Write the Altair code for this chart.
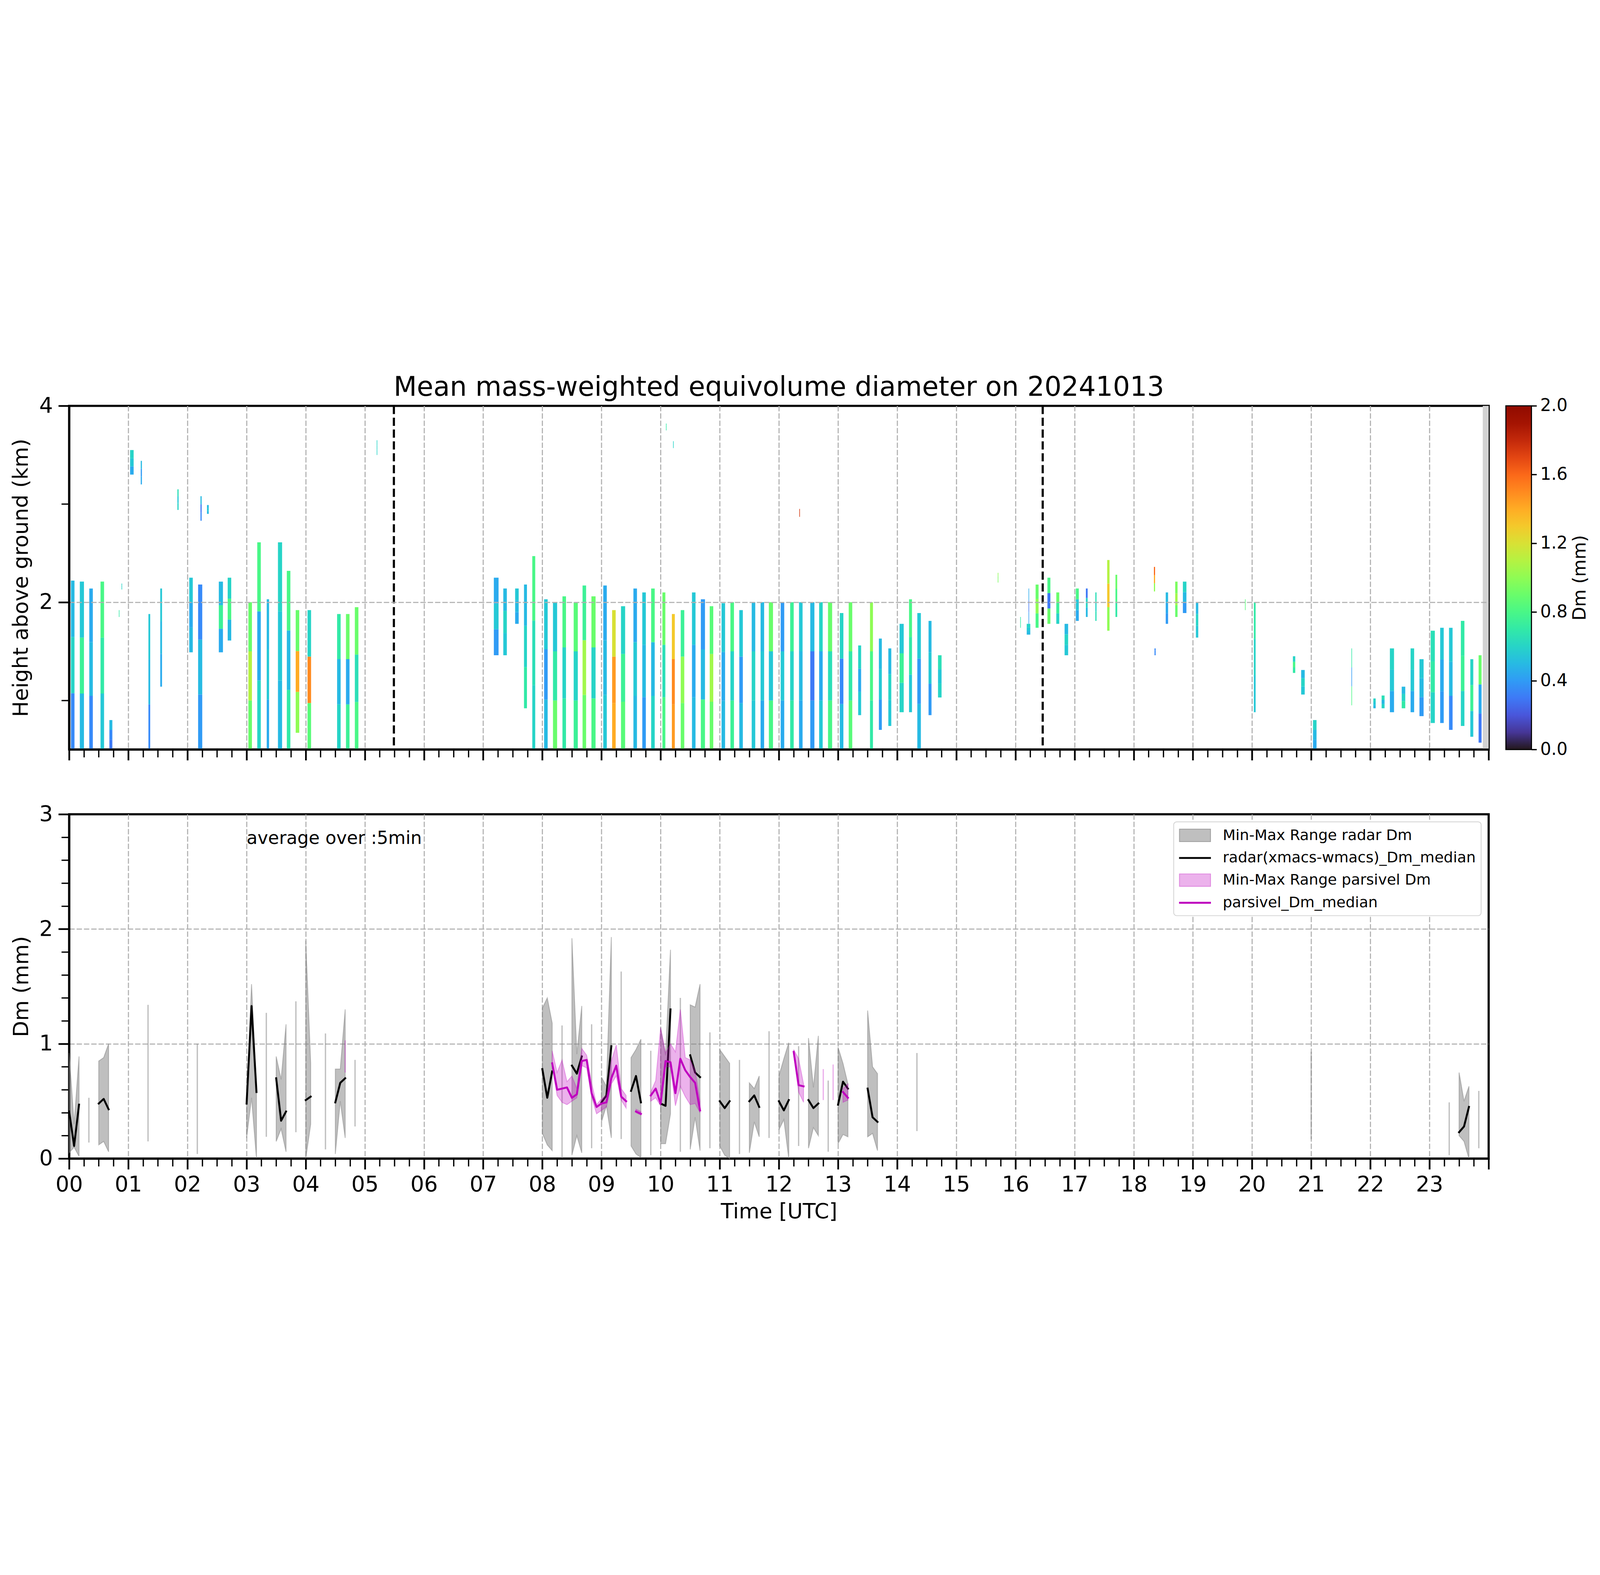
import pandas as pd
import altair as alt

alt.data_transformers.disable_max_rows()

FONT = "DejaVu Sans"
PLOT_W = 6598
TOP_H = 1597
BOT_H = 1600

# ---------------- top panel: radar Dm curtains ----------------
# start/end in hours UTC, bottom/top in km, Dm (mm) in lower/middle/upper third
curtain_start = [
    0.03, 0.18, 0.34, 0.53, 0.68, 0.84, 0.885, 1.03, 1.21, 1.34,
    1.54, 1.83, 2.03, 2.18, 2.22, 2.33, 2.53, 2.68, 3.03, 3.18,
    3.34, 3.53, 3.68, 3.83, 4.03, 4.53, 4.68, 4.83, 5.20, 7.18,
    7.34, 7.54, 7.69, 7.83, 8.03, 8.18, 8.34, 8.53, 8.68, 8.83,
    9.03, 9.18, 9.33, 9.54, 9.69, 9.84, 10.03, 10.09, 10.19, 10.21,
    10.34, 10.53, 10.68, 10.83, 11.03, 11.18, 11.33, 11.54, 11.69, 11.83,
    12.03, 12.19, 12.34, 12.345, 12.53, 12.68, 12.83, 13.03, 13.18, 13.34,
    13.54, 13.69, 13.85, 14.04, 14.20, 14.34, 14.53, 14.69, 15.70, 16.08,
    16.19, 16.22, 16.34, 16.54, 16.69, 16.83, 17.02, 17.19, 17.35, 17.55,
    17.69, 18.34, 18.35, 18.54, 18.70, 18.83, 19.05, 19.88, 20.03, 20.69,
    20.83, 21.03, 21.68, 22.05, 22.19, 22.33, 22.53, 22.68, 22.83, 23.02,
    23.18, 23.33, 23.53, 23.69, 23.83,
]
curtain_end = [
    0.09, 0.25, 0.40, 0.59, 0.73, 0.85, 0.895, 1.09, 1.23, 1.37,
    1.57, 1.85, 2.09, 2.25, 2.24, 2.36, 2.60, 2.74, 3.09, 3.24,
    3.38, 3.60, 3.74, 3.89, 4.09, 4.59, 4.74, 4.89, 5.21, 7.26,
    7.40, 7.60, 7.74, 7.88, 8.09, 8.25, 8.40, 8.60, 8.74, 8.90,
    9.09, 9.24, 9.40, 9.60, 9.75, 9.90, 10.08, 10.10, 10.24, 10.22,
    10.40, 10.59, 10.75, 10.89, 11.09, 11.24, 11.39, 11.60, 11.75, 11.90,
    12.09, 12.25, 12.40, 12.355, 12.60, 12.74, 12.90, 13.09, 13.24, 13.39,
    13.59, 13.74, 13.90, 14.11, 14.25, 14.40, 14.58, 14.75, 15.71, 16.09,
    16.25, 16.23, 16.39, 16.59, 16.74, 16.89, 17.07, 17.22, 17.37, 17.59,
    17.72, 18.36, 18.37, 18.58, 18.74, 18.89, 19.09, 19.89, 20.06, 20.73,
    20.89, 21.09, 21.69, 22.09, 22.24, 22.40, 22.59, 22.74, 22.90, 23.09,
    23.24, 23.39, 23.59, 23.74, 23.88,
]
curtain_bottom = [
    0.50, 0.50, 0.50, 0.50, 0.50, 1.85, 2.13, 3.30, 3.20, 0.50,
    1.14, 2.94, 1.49, 0.50, 2.83, 2.90, 1.49, 1.61, 0.50, 0.50,
    0.50, 0.50, 0.50, 0.67, 0.50, 0.50, 0.50, 0.50, 3.50, 1.46,
    1.46, 1.78, 0.92, 0.50, 0.50, 0.50, 0.50, 0.50, 0.50, 0.50,
    0.50, 0.50, 0.50, 0.50, 0.50, 0.50, 0.50, 3.75, 0.50, 3.57,
    0.50, 0.50, 0.50, 0.50, 0.50, 0.50, 0.50, 0.50, 0.50, 0.50,
    0.50, 0.50, 0.50, 2.87, 0.50, 0.50, 0.50, 0.50, 0.50, 0.85,
    0.50, 0.70, 0.74, 0.88, 0.88, 0.50, 0.85, 1.03, 2.20, 1.74,
    1.67, 1.78, 1.74, 1.78, 1.78, 1.46, 1.81, 1.85, 1.81, 1.71,
    1.85, 2.11, 1.46, 1.78, 1.85, 1.89, 1.64, 1.92, 0.88, 1.28,
    1.06, 0.50, 0.95, 0.92, 0.92, 0.88, 0.92, 0.88, 0.84, 0.77,
    0.77, 0.70, 0.74, 0.63, 0.57,
]
curtain_top = [
    2.22, 2.21, 2.14, 2.21, 0.80, 1.92, 2.19, 3.55, 3.44, 1.88,
    2.14, 3.15, 2.25, 2.18, 3.08, 2.99, 2.21, 2.25, 2.00, 2.61,
    2.03, 2.61, 2.32, 1.92, 1.92, 1.88, 1.88, 1.95, 3.65, 2.25,
    2.14, 2.14, 2.18, 2.47, 2.03, 2.00, 2.06, 2.00, 2.17, 2.06,
    2.17, 1.92, 1.96, 2.14, 2.10, 2.14, 2.10, 3.82, 1.88, 3.64,
    1.92, 2.10, 2.03, 1.96, 1.99, 2.00, 1.92, 2.00, 2.00, 2.00,
    2.00, 2.00, 2.00, 2.95, 2.00, 2.00, 2.00, 1.89, 2.00, 1.56,
    2.00, 1.63, 1.53, 1.78, 2.03, 1.89, 1.81, 1.46, 2.30, 1.85,
    1.78, 2.14, 2.18, 2.25, 2.10, 1.78, 2.14, 2.14, 2.10, 2.43,
    2.28, 2.36, 1.53, 2.10, 2.21, 2.21, 2.00, 2.03, 2.00, 1.45,
    1.31, 0.80, 1.53, 1.02, 1.05, 1.53, 1.14, 1.53, 1.42, 1.71,
    1.74, 1.74, 1.81, 1.42, 1.46,
]
curtain_dm_low = [
    0.35, 0.50, 0.35, 0.55, 0.30, 0.70, 0.60, 0.45, 0.45, 0.35,
    0.45, 0.60, 0.50, 0.40, 0.35, 0.50, 0.45, 0.50, 0.90, 0.60,
    0.45, 0.50, 0.70, 1.00, 0.85, 0.60, 0.75, 0.80, 0.60, 0.40,
    0.55, 0.45, 0.70, 0.60, 0.50, 0.90, 0.70, 0.75, 0.90, 0.80,
    0.55, 1.40, 0.85, 0.50, 0.40, 0.60, 0.80, 0.70, 1.45, 0.60,
    0.90, 0.50, 0.80, 0.90, 0.50, 0.75, 0.50, 0.55, 0.45, 0.80,
    0.45, 0.70, 0.45, 1.75, 0.40, 0.55, 0.80, 0.50, 0.85, 0.55,
    0.70, 0.40, 0.55, 0.60, 0.55, 0.50, 0.40, 0.60, 0.95, 0.70,
    0.50, 0.40, 0.80, 0.90, 0.60, 0.55, 0.45, 0.50, 0.65, 1.00,
    0.70, 1.00, 0.35, 0.40, 0.90, 0.40, 0.55, 0.85, 0.55, 0.70,
    0.55, 0.45, 0.80, 0.50, 0.60, 0.45, 0.70, 0.45, 0.40, 0.60,
    0.40, 0.35, 0.60, 0.55, 0.30,
]
curtain_dm_mid = [
    0.60, 0.75, 0.50, 0.70, 0.35, 0.70, 0.60, 0.55, 0.40, 0.50,
    0.50, 0.55, 0.45, 0.50, 0.30, 0.55, 0.75, 0.80, 1.10, 0.45,
    0.55, 0.55, 0.50, 1.40, 1.50, 0.50, 0.45, 0.65, 0.60, 0.55,
    0.60, 0.50, 0.60, 0.65, 0.40, 0.70, 0.60, 0.60, 1.05, 0.60,
    0.50, 1.45, 0.75, 0.55, 0.50, 0.50, 0.65, 0.70, 1.50, 0.60,
    1.00, 0.45, 0.50, 1.05, 0.45, 0.60, 0.40, 0.60, 0.55, 0.55,
    0.55, 0.60, 0.50, 1.75, 0.30, 0.45, 0.65, 0.35, 0.70, 0.45,
    0.80, 0.55, 0.60, 0.75, 0.70, 0.40, 0.55, 0.55, 0.95, 0.70,
    0.55, 0.30, 1.00, 0.30, 0.75, 0.60, 0.55, 0.60, 0.60, 1.30,
    0.80, 1.40, 0.35, 0.45, 1.05, 0.50, 0.60, 0.85, 0.60, 0.80,
    0.60, 0.50, 0.40, 0.55, 0.50, 0.55, 0.60, 0.55, 0.50, 0.70,
    0.45, 0.50, 0.75, 0.75, 0.45,
]
curtain_dm_high = [
    0.50, 0.55, 0.45, 0.80, 0.50, 0.70, 0.60, 0.60, 0.50, 0.55,
    0.55, 0.65, 0.55, 0.35, 0.50, 0.50, 0.50, 0.60, 0.90, 0.80,
    0.50, 0.60, 0.80, 0.90, 0.60, 0.70, 0.90, 0.90, 0.60, 0.45,
    0.50, 0.55, 0.50, 0.80, 0.55, 0.55, 0.80, 0.85, 0.75, 0.90,
    0.45, 1.20, 0.60, 0.45, 0.55, 0.80, 0.90, 0.70, 1.30, 0.60,
    0.75, 0.55, 0.40, 0.85, 0.55, 0.80, 0.55, 0.50, 0.50, 0.90,
    0.40, 0.75, 0.55, 1.75, 0.50, 0.60, 0.90, 0.60, 0.90, 0.60,
    1.00, 0.50, 0.50, 0.55, 0.80, 0.55, 0.50, 0.65, 1.00, 0.70,
    0.60, 0.45, 0.90, 0.80, 0.90, 0.50, 0.80, 0.30, 0.65, 1.10,
    0.90, 1.60, 0.35, 0.50, 0.95, 0.60, 0.50, 0.85, 0.70, 0.60,
    0.50, 0.60, 0.70, 0.60, 0.65, 0.60, 0.50, 0.60, 0.55, 0.65,
    0.55, 0.55, 0.70, 0.60, 0.90,
]

# marker lines and the no-data band at the end of the day
marker_hours = [5.49, 16.46]
nodata_start = [23.90]
nodata_end = [24.0]
nodata_bottom = [0.5]
nodata_top = [4.0]

# ---------------- bottom panel: 5-min statistics ----------------
radar_minute = [
    0, 5, 10, 20, 30, 35, 40, 80, 130, 180, 185, 190, 200, 210, 215, 220, 230, 240, 245, 260, 270, 275, 280, 290,
    480, 485, 490, 500, 510, 515, 520, 530, 540, 545, 550, 560, 570, 575, 580, 590, 600, 605, 610, 620, 630, 635, 640, 650,
    660, 665, 670, 680, 690, 695, 700, 710, 720, 725, 730, 740, 750, 755, 760, 770, 780, 785, 790, 810, 815, 820, 860,
    1260, 1400, 1410, 1415, 1420, 1430,
]
radar_lo = [
    0.05, 0.10, 0.02, 0.14, 0.12, 0.15, 0.06, 0.15, 0.04, 0.18, 0.53, 0.00, 0.19, 0.15, 0.26, 0.06, 0.23, 0.00, 0.30, 0.08, 0.04, 0.50, 0.18, 0.28,
    0.22, 0.12, 0.07, 0.00, 0.03, 0.20, 0.05, 0.09, 0.32, 0.46, 0.18, 0.17, 0.11, 0.04, 0.01, 0.03, 0.13, 0.13, 0.39, 0.06, 0.08, 0.36, 0.07, 0.09,
    0.11, 0.03, 0.00, 0.04, 0.05, 0.32, 0.19, 0.18, 0.25, 0.34, 0.00, 0.11, 0.09, 0.27, 0.20, 0.06, 0.13, 0.21, 0.19, 0.19, 0.22, 0.07, 0.24,
    0.17, 0.03, 0.20, 0.15, 0.00, 0.09,
]
radar_med = [
    0.41, 0.11, 0.47, None, 0.48, 0.52, 0.43, None, None, 0.48, 1.33, 0.58, None, 0.70, 0.33, 0.41, None, 0.51, 0.54, None, 0.49, 0.66, 0.70, None,
    0.78, 0.53, 0.76, None, 0.81, 0.74, 0.89, None, 0.49, 0.55, 0.98, None, 0.59, 0.72, 0.49, None, 0.48, 0.46, 1.30, None, 0.90, 0.75, 0.71, None,
    0.50, 0.44, 0.50, None, 0.50, 0.55, 0.45, None, 0.50, 0.42, 0.51, None, 0.51, 0.44, 0.48, None, 0.47, 0.67, 0.61, 0.61, 0.36, 0.32, None,
    None, None, 0.23, 0.28, 0.45, None,
]
radar_hi = [
    0.92, 0.30, 0.89, 0.53, 0.85, 0.88, 1.00, 1.34, 1.00, 0.50, 1.52, 0.60, 1.27, 0.89, 0.69, 1.17, 1.37, 1.90, 0.83, 1.09, 0.78, 0.78, 1.30, 0.86,
    1.31, 1.40, 1.18, 1.16, 1.92, 0.91, 1.33, 1.17, 0.71, 0.63, 1.93, 1.63, 0.88, 0.95, 1.04, 0.94, 1.14, 0.90, 1.82, 1.40, 1.34, 1.32, 1.52, 1.10,
    0.95, 0.89, 0.83, 0.86, 0.66, 0.61, 0.72, 1.11, 0.72, 0.87, 1.01, 0.98, 1.05, 0.62, 1.07, 0.68, 0.97, 0.83, 0.65, 1.29, 0.80, 0.74, 0.92,
    0.93, 0.49, 0.75, 0.50, 0.63, 0.59,
]

parsivel_minute = [
    280, 490, 495, 500, 505, 510, 515, 520, 525, 530, 535, 540, 545, 550, 555, 560, 565,
    575, 580, 590, 595, 600, 605, 610, 615, 620, 625, 630, 635, 640,
    735, 740, 745, 765, 775, 785, 790,
]
parsivel_lo = [
    0.75, 0.80, 0.55, 0.49, 0.47, 0.50, 0.53, 0.81, 0.79, 0.54, 0.39, 0.42, 0.45, 0.65, 0.72, 0.51, 0.44,
    0.40, 0.38, 0.50, 0.53, 0.46, 0.80, 0.80, 0.46, 0.63, 0.54, 0.47, 0.48, 0.40,
    0.91, 0.58, 0.49, 0.51, 0.51, 0.49, 0.51,
]
parsivel_med = [
    None, 0.83, 0.60, 0.61, 0.62, 0.53, 0.56, 0.85, 0.86, 0.57, 0.45, 0.48, 0.49, 0.70, 0.81, 0.54, 0.50,
    0.41, 0.39, 0.55, 0.61, 0.48, 0.85, 0.84, 0.57, 0.87, 0.77, 0.71, 0.66, 0.42,
    0.93, 0.64, 0.63, None, None, 0.58, 0.53,
]
parsivel_hi = [
    1.03, 0.94, 0.75, 0.86, 0.67, 0.72, 0.61, 0.96, 0.90, 0.66, 0.47, 0.52, 0.55, 0.85, 0.99, 0.61, 0.55,
    0.43, 0.41, 0.58, 0.68, 1.14, 0.92, 1.00, 0.93, 1.30, 0.88, 0.86, 0.77, 0.50,
    0.95, 0.87, 0.65, 0.78, 0.82, 0.61, 0.65,
]

note_hour = [3.0]
note_dm = [2.74]
note_text = ["average over :5min"]

legend_labels = [
    "Min-Max Range radar Dm",
    "radar(xmacs-wmacs)_Dm_median",
    "Min-Max Range parsivel Dm",
    "parsivel_Dm_median",
]
legend_fill = ["#bfbfbf", "#000000", "#ecb2ec", "#bf00bf"]
legend_edge = ["#a3a3a3", "#000000", "#e08ae0", "#bf00bf"]
legend_shape = [
    "M-1,-0.8H3V0.8H-1Z",
    "M-1,-0.07H3V0.07H-1Z",
    "M-1,-0.8H3V0.8H-1Z",
    "M-1,-0.07H3V0.07H-1Z",
]

# ticks
x_tick_values = [q / 4 for q in range(97)]
height_ticks = [1, 2, 3, 4]
dm_ticks = [round(k * 0.2, 1) for k in range(16)]
cbar_ticks = [0.0, 0.4, 0.8, 1.2, 1.6, 2.0]


# ---------------- data frames ----------------
rows = []
for i in range(len(curtain_start)):
    step = (curtain_top[i] - curtain_bottom[i]) / 3
    for k, dm in enumerate((curtain_dm_low[i], curtain_dm_mid[i], curtain_dm_high[i])):
        rows.append({
            "t0": curtain_start[i], "t1": curtain_end[i],
            "h0": curtain_bottom[i] + k * step,
            "h1": curtain_bottom[i] + (k + 1) * step,
            "dm": dm,
        })
curtains = pd.DataFrame(rows)

markers = pd.DataFrame({"t": marker_hours})
nodata = pd.DataFrame({"t0": nodata_start, "t1": nodata_end, "h0": nodata_bottom, "h1": nodata_top})
cbar_df = pd.DataFrame({"v": cbar_ticks})


def split_runs(minutes, lo, med, hi):
    df = pd.DataFrame({"minute": minutes, "lo": lo, "med": med, "hi": hi})
    df["med"] = df["med"].astype(float)
    df["t"] = df["minute"] / 60.0
    df["seg"] = (df["minute"].diff() != 5).cumsum()
    df["n"] = df.groupby("seg")["minute"].transform("size")
    return df[df["n"] > 1], df[df["n"] == 1]


radar_runs, radar_single = split_runs(radar_minute, radar_lo, radar_med, radar_hi)
pars_runs, pars_single = split_runs(parsivel_minute, parsivel_lo, parsivel_med, parsivel_hi)
notes = pd.DataFrame({"t": note_hour, "dm": note_dm, "text": note_text})
legend_df = pd.DataFrame({"label": legend_labels})


# ---------------- axes ----------------
GRID = dict(gridColor="#b0b0b0", gridWidth=5, gridDash=[25, 9])
TICKS = dict(tickColor="black", domain=True, domainColor="black", domainWidth=10,
             labelFont=FONT, labelFontSize=100, labelColor="black", labelOverlap=False, labelFlush=False,
             titleFont=FONT, titleFontSize=98, titleFontWeight="normal", titleColor="black")


def major_minor(test, major, minor):
    return {"condition": {"test": test, "value": major}, "value": minor}


def time_axis(show_labels, z):
    return alt.Axis(
        values=x_tick_values,
        labels=show_labels,
        labelExpr="datum.value % 1 === 0 && datum.value < 24 ? (datum.value < 10 ? '0' : '') + datum.value : ''",
        labelPadding=23,
        tickSize=major_minor("datum.value % 1 === 0", 50, 36),
        tickWidth=major_minor("datum.value % 1 === 0", 8, 6),
        grid=True,
        gridOpacity=major_minor("datum.value % 1 === 0 && datum.value > 0 && datum.value < 24", 1, 0),
        titleBaseline="top", titleY=199,
        zindex=z,
        **GRID, **TICKS,
    )


height_axis = alt.Axis(
    values=height_ticks,
    labelExpr="datum.value % 2 === 0 ? '' + datum.value : ''",
    labelPadding=26,
    tickSize=major_minor("datum.value % 2 === 0", 50, 36),
    tickWidth=major_minor("datum.value % 2 === 0", 8, 6),
    grid=True,
    gridOpacity=major_minor("datum.value === 2", 1, 0),
    titleX=-270, titleBaseline="top",
    zindex=1,
    **GRID, **TICKS,
)

dm_axis = alt.Axis(
    values=dm_ticks,
    labelExpr="datum.value % 1 === 0 ? '' + datum.value : ''",
    labelPadding=26,
    tickSize=major_minor("datum.value % 1 === 0", 50, 36),
    tickWidth=major_minor("datum.value % 1 === 0", 8, 6),
    grid=True,
    gridOpacity=major_minor("datum.value === 1 || datum.value === 2", 1, 0),
    titleX=-268, titleBaseline="top",
    zindex=0,
    **GRID, **TICKS,
)

# colour-bar ticks, labels and label, drawn as an axis along the colour bar
cbar_axis = alt.Axis(
    orient="right", offset=199, values=cbar_ticks, format=".1f",
    domain=False, grid=False, ticks=True, tickSize=24, tickWidth=6, tickColor="black",
    labelFont=FONT, labelFontSize=80, labelColor="black", labelPadding=16,
    labelFlush=False, labelOverlap=False,
    titleFont=FONT, titleFontSize=83, titleFontWeight="normal", titleColor="black",
    titleAngle=270, titleBaseline="top", titlePadding=18,
)

x_scale = alt.Scale(domain=[0, 24], nice=False, zero=False)
h_scale = alt.Scale(domain=[0.5, 4], nice=False, zero=False)
dm_scale = alt.Scale(domain=[0, 3], nice=False, zero=False)


def top_x(field):
    return alt.X(f"{field}:Q", scale=x_scale, axis=time_axis(False, 1), title=None)


def top_y(field):
    return alt.Y(f"{field}:Q", scale=h_scale, axis=height_axis, title="Height above ground (km)")


def bot_x(field):
    return alt.X(f"{field}:Q", scale=x_scale, axis=time_axis(True, 0), title="Time [UTC]")


def bot_y(field):
    return alt.Y(f"{field}:Q", scale=dm_scale, axis=dm_axis, title="Dm (mm)")


# ---------------- top chart ----------------
cbar_legend = alt.Legend(
    type="gradient", orient="none", legendX=PLOT_W + 80, legendY=0,
    direction="vertical", padding=0,
    gradientLength=TOP_H, gradientThickness=119,
    gradientStrokeColor="black", gradientStrokeWidth=5,
    values=cbar_ticks, labelExpr="''", labelOpacity=0,
    title=None,
)

curtain_layer = alt.Chart(curtains).mark_rect().encode(
    x=top_x("t0"), x2="t1",
    y=top_y("h0"), y2="h1",
    color=alt.Color("dm:Q", scale=alt.Scale(scheme="turbo", domain=[0, 2]), legend=cbar_legend),
)

nodata_layer = alt.Chart(nodata).mark_rect(color="#d3d3d3").encode(
    x=top_x("t0"), x2="t1", y=top_y("h0"), y2="h1",
)

marker_layer = alt.Chart(markers).mark_rule(color="black", strokeWidth=10, strokeDash=[38, 17]).encode(
    x=top_x("t"),
)

cbar_layer = alt.Chart(cbar_df).mark_point().encode(
    y=alt.Y("v:Q", scale=alt.Scale(domain=[0, 2], nice=False, zero=False), axis=cbar_axis, title="Dm (mm)"),
).transform_filter("false")

top = alt.layer(
    alt.layer(curtain_layer, nodata_layer, marker_layer),
    cbar_layer,
).resolve_scale(y="independent").properties(
    width=PLOT_W, height=TOP_H,
    title=alt.Title("Mean mass-weighted equivolume diameter on 20241013",
                    font=FONT, fontSize=125, fontWeight="normal", color="black",
                    anchor="middle", frame="group", offset=-30),
)

# ---------------- bottom chart ----------------
radar_band = alt.Chart(radar_runs).mark_area(
    fill="gray", fillOpacity=0.5, stroke="gray", strokeOpacity=0.5, strokeWidth=4,
).encode(x=bot_x("t"), y=bot_y("lo"), y2="hi", detail="seg:N")

radar_tick = alt.Chart(radar_single).mark_rule(color="gray", opacity=0.5, strokeWidth=6).encode(
    x=bot_x("t"), y=bot_y("lo"), y2="hi",
)

radar_line = alt.Chart(radar_runs).mark_line(
    color="black", strokeWidth=9, strokeCap="square", strokeJoin="round",
).encode(x=bot_x("t"), y=bot_y("med"), detail="seg:N")

pars_band = alt.Chart(pars_runs).mark_area(
    fill="#bf00bf", fillOpacity=0.3, stroke="#bf00bf", strokeOpacity=0.3, strokeWidth=4,
).encode(x=bot_x("t"), y=bot_y("lo"), y2="hi", detail="seg:N")

pars_tick = alt.Chart(pars_single).mark_rule(color="#bf00bf", opacity=0.3, strokeWidth=6).encode(
    x=bot_x("t"), y=bot_y("lo"), y2="hi",
)

pars_line = alt.Chart(pars_runs).mark_line(
    color="#bf00bf", strokeWidth=9, strokeCap="square", strokeJoin="round",
).encode(x=bot_x("t"), y=bot_y("med"), detail="seg:N")

note_layer = alt.Chart(notes).mark_text(
    align="left", baseline="alphabetic", font=FONT, fontSize=83, color="black",
).encode(x=bot_x("t"), y=bot_y("dm"), text="text:N")

series_legend = alt.Legend(
    orient="top-right", offset=35, title=None, padding=25,
    fillColor="white", strokeColor="#d6d6d6", cornerRadius=14,
    labelFont=FONT, labelFontSize=69, labelColor="black", labelLimit=3000,
    labelOffset=127, rowPadding=30, symbolSize=5184, symbolStrokeWidth=4,
)

legend_layer = alt.Chart(legend_df).mark_point(filled=True, opacity=1, size=5184, strokeWidth=4).encode(
    color=alt.Color("label:N", scale=alt.Scale(domain=legend_labels, range=legend_fill), legend=series_legend),
    stroke=alt.Stroke("label:N", scale=alt.Scale(domain=legend_labels, range=legend_edge), legend=series_legend),
    shape=alt.Shape("label:N", scale=alt.Scale(domain=legend_labels, range=legend_shape), legend=series_legend),
).transform_filter("false")

bottom = alt.layer(
    radar_band, radar_tick, radar_line, pars_band, pars_tick, pars_line, note_layer, legend_layer,
).properties(width=PLOT_W, height=BOT_H)

chart = alt.vconcat(top, bottom, spacing=301, bounds="flush").resolve_scale(
    color="independent", shape="independent", stroke="independent",
).configure(
    font=FONT,
    padding={"left": 31, "top": 72, "right": 30, "bottom": 20},
).configure_view(
    stroke="black", strokeWidth=10,
).configure_legend(
    strokeWidth=4,
)

chart.save("out.html", embed_options={"renderer": "svg", "actions": False})
